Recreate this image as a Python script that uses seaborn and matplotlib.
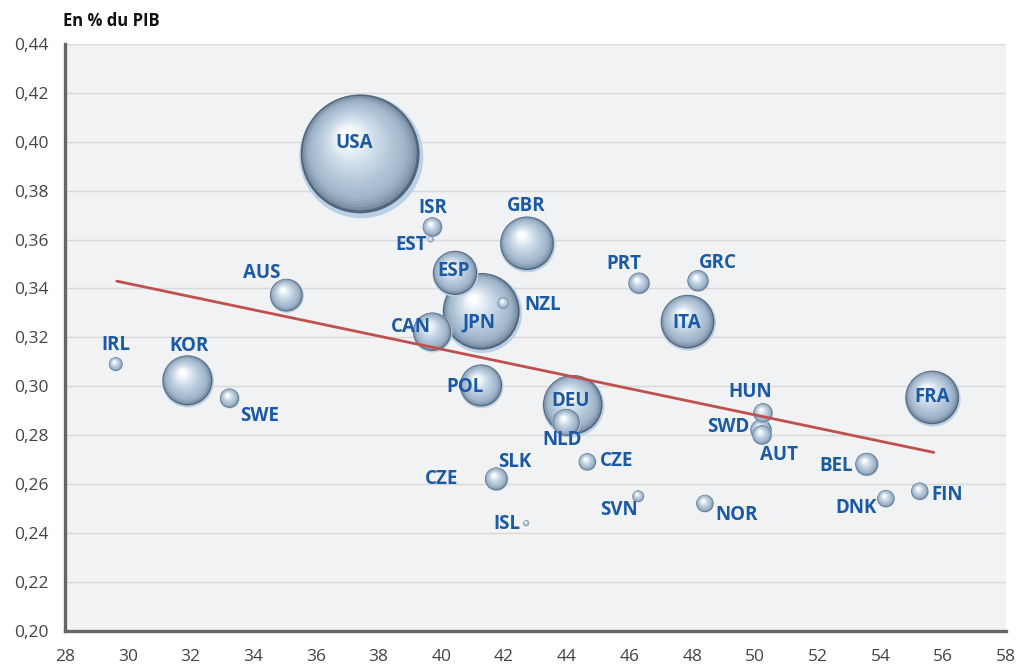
import numpy as np
import pandas as pd
import matplotlib
matplotlib.use("Agg")
import matplotlib.pyplot as plt
import seaborn as sns
from matplotlib.colors import LinearSegmentedColormap
from matplotlib.ticker import FuncFormatter, MultipleLocator

# donnees
pays = ["USA", "ISR", "EST", "GBR", "ESP", "JPN", "NZL", "CAN", "AUS", "IRL",
        "KOR", "SWE", "POL", "DEU", "NLD", "CZE", "CZE", "SLK", "ISL", "SVN",
        "PRT", "GRC", "ITA", "HUN", "SWD", "AUT", "BEL", "NOR", "DNK", "FIN", "FRA"]
depenses = [37.45, 39.72, 39.66, 42.75, 40.45, 41.30, 41.98, 39.72, 35.07, 29.62,
            31.92, 33.25, 41.28, 44.21, 43.99, 44.66, 40.00, 41.76, 42.71, 46.28,
            46.31, 48.19, 47.87, 50.26, 50.20, 50.23, 53.57, 48.41, 54.18, 55.26, 55.67]
gini = [0.394, 0.365, 0.360, 0.358, 0.346, 0.330, 0.334, 0.322, 0.337, 0.309,
        0.302, 0.295, 0.300, 0.292, 0.285, 0.269, 0.262, 0.262, 0.244, 0.255,
        0.342, 0.343, 0.326, 0.289, 0.282, 0.280, 0.268, 0.252, 0.254, 0.257, 0.295]
poids = [38.4, 1.0, 0.09, 7.8, 5.3, 16.0, 0.36, 4.0, 2.9, 0.5,
         6.8, 1.0, 4.8, 9.6, 2.0, 0.8, 0.0, 1.4, 0.09, 0.36,
         1.2, 1.2, 7.8, 1.0, 1.2, 1.0, 1.4, 0.8, 0.8, 0.8, 7.8]

tendance_x = [29.65, 55.7]
tendance_y = [0.343, 0.273]

# decalage des etiquettes en pixels (droite, haut)
decalages = [(-7, 13), (0, 19), (-20, -5), (-1, 38), (-2, 3), (-3, -10), (39, -2), (-22, 6),
             (-25, 23), (0, 19), (1, 35), (30, -17), (-16, -1), (-3, 5), (-4, -17), (29, 1),
             (0, 0), (18, 17), (-19, -1), (-19, -14), (-15, 20), (20, 18), (-1, 0), (-13, 21),
             (-33, 3), (17, -20), (-31, -1), (32, -11), (-30, -9), (27, -3), (-1, 2)]

df = pd.DataFrame({"pays": pays, "x": depenses, "y": gini, "poids": poids})
df["s"] = df["poids"] * 207.0

sns.set_style("white")
plt.rcParams["font.family"] = ["Open Sans", "DejaVu Sans"]

fig = plt.figure(figsize=(10.16, 6.64), dpi=100)
ax = fig.add_axes([0.064, 0.0497, 0.926, 0.8843])
ax.set_facecolor("#f1f2f4")
ax.set_xlim(28, 58)
ax.set_ylim(0.20, 0.44)

cmap = LinearSegmentedColormap.from_list(
    "bille", ["#52657a", "#7f94aa", "#9fb4c9", "#b2c5d8", "#d0deeb", "#ffffff"])
couches = np.linspace(0, 1, 24)
inv = ax.transData.inverted()

ordre = df.sort_values("s", ascending=False).index
for k, i in enumerate(ordre):
    s = df.loc[i, "s"]
    if s <= 0:
        continue
    r = np.sqrt(s) * (100 / 72) / 2
    cx, cy = ax.transData.transform((df.loc[i, "x"], df.loc[i, "y"]))
    pts = [(cx, cy)]
    tailles = [s]
    couleurs = ["#b9d0e6"]
    for t in couches:
        f = 0.96 - 0.86 * t
        pts.append((cx - 0.02 * r - 0.2 * r * t, cy + 0.04 * r + 0.3 * r * t))
        tailles.append(s * f ** 2)
        couleurs.append(cmap(t ** 0.55))
    d = inv.transform(np.array(pts))
    ax.scatter(d[:, 0], d[:, 1], s=tailles, c=couleurs, linewidths=0, zorder=2 + k * 0.01)

sns.lineplot(x=tendance_x, y=tendance_y, ax=ax, color="#c0504d", lw=2, zorder=4)

for i, row in df.iterrows():
    dx, dy = decalages[i]
    ax.annotate(row["pays"], (row["x"], row["y"]), xytext=(dx * 0.72, dy * 0.72),
                textcoords="offset points", ha="center", va="center",
                fontsize=13.5, fontweight="bold", color="#1a5aa5", zorder=10)

ax.xaxis.set_major_locator(MultipleLocator(2))
ax.yaxis.set_major_locator(MultipleLocator(0.02))
ax.yaxis.set_major_formatter(FuncFormatter(lambda v, p: f"{v:.2f}".replace(".", ",")))
ax.yaxis.grid(True, color="#d8d8d8", lw=1)
ax.set_axisbelow(True)
ax.tick_params(axis="both", length=5, width=1, color="#aaaaaa", labelsize=12.5,
               labelcolor="#444444", pad=7)
ax.tick_params(axis="x", pad=8)
for c in ["top", "right"]:
    ax.spines[c].set_visible(False)
for c in ["left", "bottom"]:
    ax.spines[c].set_color("#666666")
    ax.spines[c].set_linewidth(2.4)

fig.text(0.062, 0.968, "En % du PIB", fontsize=12, fontweight="bold", color="#111111",
         va="center", ha="left")

fig.savefig("out.png", dpi=100, facecolor="white")
